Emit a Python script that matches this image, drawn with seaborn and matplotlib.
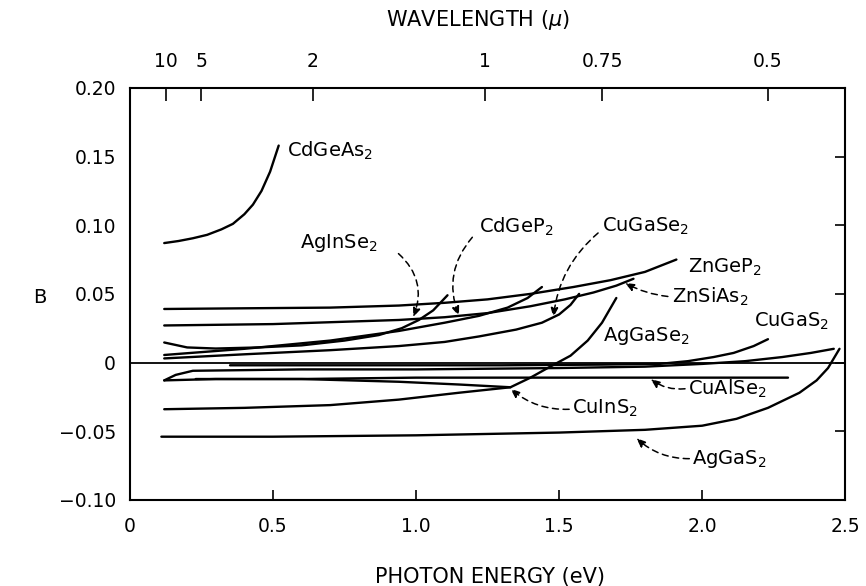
import matplotlib
matplotlib.use("Agg")
import matplotlib.pyplot as plt
import numpy as np
import pandas as pd
import seaborn as sns

sns.set_theme(style="white")
plt.rcParams["font.family"] = ["DejaVu Sans"]
plt.rcParams["mathtext.fontset"] = "dejavusans"
plt.rcParams["text.color"] = "black"
plt.rcParams["xtick.color"] = "black"
plt.rcParams["ytick.color"] = "black"

# ---------------- data (photon energy eV, B) ----------------
cdgeas2_e = [0.12, 0.17, 0.22, 0.27, 0.32, 0.36, 0.40, 0.43, 0.46, 0.49, 0.52]
cdgeas2_b = [0.087, 0.0885, 0.0905, 0.093, 0.097, 0.101, 0.108, 0.115, 0.125, 0.139, 0.158]

zngep2_e = [0.12, 0.40, 0.70, 0.94, 1.10, 1.25, 1.40, 1.55, 1.68, 1.80, 1.91]
zngep2_b = [0.039, 0.0395, 0.040, 0.0415, 0.0435, 0.046, 0.050, 0.055, 0.060, 0.066, 0.075]

znsias2_e = [0.12, 0.50, 0.94, 1.10, 1.25, 1.40, 1.52, 1.62, 1.70, 1.76]
znsias2_b = [0.027, 0.028, 0.031, 0.033, 0.036, 0.041, 0.046, 0.051, 0.056, 0.061]

aginse2_e = [0.12, 0.20, 0.30, 0.45, 0.60, 0.75, 0.87, 0.95, 1.01, 1.06, 1.11]
aginse2_b = [0.0146, 0.011, 0.0102, 0.011, 0.0125, 0.016, 0.020, 0.025, 0.031, 0.038, 0.049]

cdgep2_e = [0.12, 0.40, 0.70, 0.94, 1.10, 1.22, 1.32, 1.39, 1.44]
cdgep2_b = [0.0055, 0.010, 0.016, 0.023, 0.029, 0.034, 0.040, 0.047, 0.055]

cugase2_e = [0.12, 0.40, 0.70, 0.94, 1.10, 1.22, 1.35, 1.44, 1.50, 1.54, 1.57]
cugase2_b = [0.003, 0.006, 0.009, 0.012, 0.015, 0.019, 0.024, 0.029, 0.035, 0.042, 0.050]

aggase2_e = [0.12, 0.40, 0.70, 0.94, 1.15, 1.33, 1.40, 1.46, 1.54, 1.60, 1.65, 1.70]
aggase2_b = [-0.034, -0.033, -0.031, -0.027, -0.022, -0.018, -0.011, -0.004, 0.005, 0.016, 0.029, 0.047]

cuins2_e = [0.12, 0.30, 0.60, 0.94, 1.15, 1.33]
cuins2_b = [-0.013, -0.012, -0.012, -0.014, -0.016, -0.018]

cualse2_e = [0.23, 0.60, 1.00, 1.50, 1.82, 2.10, 2.30]
cualse2_b = [-0.012, -0.012, -0.011, -0.011, -0.011, -0.011, -0.011]

other_e = [0.12, 0.16, 0.22, 0.60, 1.00, 1.50, 1.80, 2.00, 2.15, 2.28, 2.38, 2.46]
other_b = [-0.013, -0.009, -0.006, -0.005, -0.005, -0.004, -0.003, -0.001, 0.001, 0.004, 0.007, 0.010]

cugas2_e = [0.35, 0.80, 1.30, 1.65, 1.85, 1.95, 2.04, 2.11, 2.18, 2.23]
cugas2_b = [-0.002, -0.002, -0.002, -0.0015, -0.001, 0.001, 0.004, 0.007, 0.012, 0.017]

aggas2_e = [0.11, 0.50, 1.00, 1.50, 1.80, 2.00, 2.12, 2.23, 2.34, 2.40, 2.44, 2.48]
aggas2_b = [-0.054, -0.054, -0.053, -0.051, -0.049, -0.046, -0.041, -0.033, -0.022, -0.013, -0.004, 0.010]

x_ticks = [0, 0.5, 1.0, 1.5, 2.0, 2.5]
x_ticklabels = ["0", "0.5", "1.0", "1.5", "2.0", "2.5"]
y_ticks = [0.20, 0.15, 0.10, 0.05, 0.0, -0.05, -0.10]
y_ticklabels = ["0.20", "0.15", "0.10", "0.05", "0", "\u22120.05", "\u22120.10"]
wl_tick_pos = [0.125, 0.25, 0.64, 1.24, 1.65, 2.23]
wl_ticklabels = ["10", "5", "2", "1", "0.75", "0.5"]

curves = {
    "CdGeAs2": (cdgeas2_e, cdgeas2_b),
    "ZnGeP2": (zngep2_e, zngep2_b),
    "ZnSiAs2": (znsias2_e, znsias2_b),
    "AgInSe2": (aginse2_e, aginse2_b),
    "CdGeP2": (cdgep2_e, cdgep2_b),
    "CuGaSe2": (cugase2_e, cugase2_b),
    "AgGaSe2": (aggase2_e, aggase2_b),
    "CuInS2": (cuins2_e, cuins2_b),
    "CuAlSe2": (cualse2_e, cualse2_b),
    "other": (other_e, other_b),
    "CuGaS2": (cugas2_e, cugas2_b),
    "AgGaS2": (aggas2_e, aggas2_b),
}
rows = []
for name, (es, bs) in curves.items():
    for i, (e, b) in enumerate(zip(es, bs)):
        rows.append({"material": name, "E": e, "B": b, "i": i})
df = pd.DataFrame(rows)

fig = plt.figure(figsize=(8.66, 5.86), dpi=100)
ax = fig.add_axes([0.150, 0.147, 0.826, 0.703])

sns.lineplot(data=df, x="E", y="B", hue="material", palette=["black"] * len(curves),
             sort=False, estimator=None, legend=False, linewidth=1.7, ax=ax)
for ln in ax.get_lines():
    ln.set_solid_joinstyle("round")
    ln.set_solid_capstyle("round")
ax.axhline(0, color="black", lw=1.3, zorder=1)

ax.set_xlim(0, 2.5)
ax.set_ylim(-0.10, 0.20)
ax.set_xticks(x_ticks)
ax.set_xticklabels(x_ticklabels)
ax.set_yticks(y_ticks)
ax.set_yticklabels(y_ticklabels)
ax.set_xlabel("")
ax.set_ylabel("")
ax.tick_params(axis="x", direction="in", length=7, width=1.2, pad=12, labelsize=13.5, colors="black")
ax.tick_params(axis="y", direction="in", length=7, width=1.2, pad=10, labelsize=13.5,
               right=True, colors="black")
for s in ax.spines.values():
    s.set_visible(True)
    s.set_color("black")
    s.set_linewidth(1.5)

ax2 = ax.twiny()
ax2.set_xlim(0, 2.5)
ax2.set_xticks(wl_tick_pos)
ax2.set_xticklabels(wl_ticklabels)
ax2.tick_params(axis="x", direction="in", length=9, width=1.2, pad=12, labelsize=13.5, colors="black")
for s in ax2.spines.values():
    s.set_visible(False)

fs = 14
labels = [
    ("CdGeAs$_2$", 0.55, 0.154),
    ("AgInSe$_2$", 0.595, 0.087),
    ("CdGeP$_2$", 1.22, 0.099),
    ("CuGaSe$_2$", 1.65, 0.099),
    ("ZnGeP$_2$", 1.95, 0.069),
    ("ZnSiAs$_2$", 1.895, 0.048),
    ("AgGaSe$_2$", 1.655, 0.019),
    ("CuGaS$_2$", 2.18, 0.030),
    ("CuAlSe$_2$", 1.95, -0.019),
    ("CuInS$_2$", 1.545, -0.033),
    ("AgGaS$_2$", 1.965, -0.070),
]
for txt, x, y in labels:
    ax.text(x, y, txt, fontsize=fs, ha="left", va="center", color="black")

leaders = [
    ((0.935, 0.080), (0.99, 0.033), -0.35),
    ((1.20, 0.092), (1.15, 0.034), 0.3),
    ((1.64, 0.095), (1.48, 0.033), 0.2),
    ((1.885, 0.048), (1.73, 0.058), -0.1),
    ((1.945, -0.019), (1.82, -0.012), -0.2),
    ((1.54, -0.034), (1.33, -0.019), -0.2),
    ((1.96, -0.070), (1.77, -0.055), -0.2),
]
for src, tgt, rad in leaders:
    ax.annotate("", xy=tgt, xytext=src,
                arrowprops=dict(arrowstyle="-|>,head_length=0.45,head_width=0.18",
                                linestyle=(0, (4, 3)), color="black", lw=1.1,
                                connectionstyle=f"arc3,rad={rad}", shrinkA=1, shrinkB=0))

fig.text(0.046, 0.493, "B", fontsize=14, ha="center", va="center", color="black")
fig.text(0.566, 0.016, "PHOTON ENERGY (eV)", fontsize=15, ha="center", va="center", color="black")
fig.text(0.552, 0.966, "WAVELENGTH ($\\mu$)", fontsize=15, ha="center", va="center", color="black")

fig.savefig("out.png", dpi=100, facecolor="white")
